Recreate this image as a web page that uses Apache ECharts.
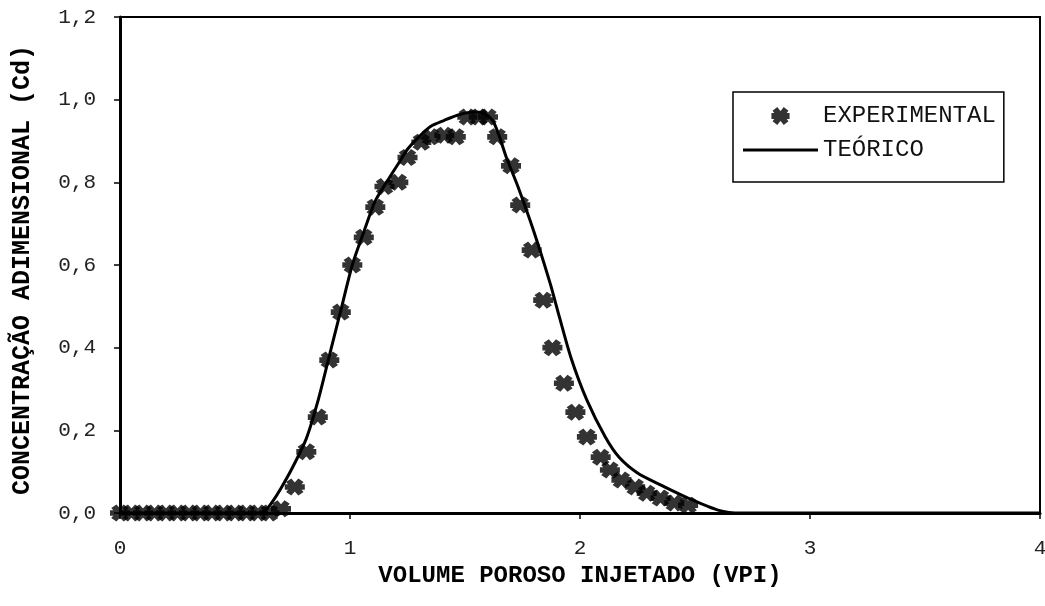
<!DOCTYPE html>
<html>
<head>
<meta charset="utf-8">
<script src="https://cdn.jsdelivr.net/npm/echarts@6/dist/echarts.min.js"></script>
<style>
  html, body { margin: 0; padding: 0; background: #fff; }
  #chart { width: 1045px; height: 606px; }
</style>
</head>
<body>
<div id="chart"></div>
<script>
// Experimental breakthrough points (VPI, Cd)
const expX = [0, 0.05, 0.10, 0.15, 0.20, 0.25, 0.30, 0.35, 0.40, 0.45, 0.50, 0.55, 0.60, 0.65,
  0.70, 0.76, 0.81, 0.86, 0.91, 0.96, 1.01, 1.06, 1.11, 1.15, 1.21, 1.25, 1.31, 1.35, 1.41, 1.46,
  1.51, 1.56, 1.60, 1.64, 1.70, 1.74, 1.79, 1.84, 1.88, 1.93, 1.98, 2.03, 2.09, 2.13, 2.18, 2.24,
  2.29, 2.35, 2.41, 2.47];
const expY = [0, 0, 0, 0, 0, 0, 0, 0, 0, 0, 0, 0, 0, 0,
  0.01, 0.063, 0.148, 0.232, 0.37, 0.486, 0.60, 0.667, 0.74, 0.79, 0.80, 0.86, 0.897, 0.91, 0.914, 0.91,
  0.958, 0.958, 0.958, 0.91, 0.84, 0.745, 0.636, 0.515, 0.40, 0.314, 0.244, 0.184, 0.135, 0.104, 0.08, 0.063,
  0.048, 0.036, 0.024, 0.019];

// Theoretical curve (VPI, Cd)
const teoX = [0, 0.60, 0.63, 0.66, 0.70, 0.75, 0.81, 0.86, 0.91, 0.96, 1.01, 1.06, 1.11, 1.17, 1.21,
  1.25, 1.30, 1.35, 1.41, 1.47, 1.54, 1.58, 1.62, 1.65, 1.68, 1.73, 1.80, 1.87, 1.91, 1.96, 2.03,
  2.11, 2.17, 2.25, 2.35, 2.47, 2.60, 2.70, 4.0];
const teoY = [0, 0, 0.005, 0.025, 0.06, 0.11, 0.18, 0.27, 0.38, 0.49, 0.60, 0.68, 0.755, 0.81, 0.845,
  0.88, 0.91, 0.935, 0.95, 0.963, 0.97, 0.967, 0.95, 0.91, 0.86, 0.79, 0.68, 0.556, 0.475, 0.377, 0.273,
  0.184, 0.135, 0.097, 0.068, 0.036, 0.007, 0, 0];

const seriesNames = ['EXPERIMENTAL', 'TEÓRICO'];
const xTitle = 'VOLUME POROSO INJETADO (VPI)';
const yTitle = 'CONCENTRAÇÃO ADIMENSIONAL (Cd)';

// Six-armed asterisk marker built from three crossing bars
const ASTERISK = (function () {
  const L = 10, t = 3.3, angles = [0, 52, -52];
  let d = '';
  angles.forEach(function (a) {
    const r = a * Math.PI / 180, dx = Math.cos(r), dy = Math.sin(r), px = -dy, py = dx;
    const pts = [
      [L * dx + t * px, L * dy + t * py],
      [L * dx - t * px, L * dy - t * py],
      [-L * dx - t * px, -L * dy - t * py],
      [-L * dx + t * px, -L * dy + t * py]
    ].map(function (p) { return (p[0] + 12).toFixed(2) + ' ' + (p[1] + 12).toFixed(2); });
    d += 'M' + pts[0] + ' L' + pts[1] + ' L' + pts[2] + ' L' + pts[3] + ' Z ';
  });
  return 'path://' + d;
})();

// Plain solid stroke used as the legend key of the curve
const LINE_KEY = 'path://M0 0 L75 0 L75 3 L0 3 Z';

const mono = "'Liberation Mono', 'Courier New', monospace";
const chart = echarts.init(document.getElementById('chart'), null, { renderer: 'canvas' });

chart.setOption({
  animation: false,
  backgroundColor: '#ffffff',
  grid: {
    left: 120, right: 5, top: 17, bottom: 93,
    outerBoundsMode: 'none', containLabel: false,
    show: true, borderColor: '#000', borderWidth: 2, backgroundColor: 'transparent'
  },
  legend: {
    orient: 'vertical',
    left: 733, top: 92,
    padding: [12, 8, 20, 10],
    itemWidth: 75, itemHeight: 18, itemGap: 10,
    borderColor: '#000', borderWidth: 1.5,
    symbolKeepAspect: true,
    textStyle: { fontFamily: mono, fontSize: 24, color: '#111' },
    data: [
      { name: seriesNames[0], icon: ASTERISK, itemStyle: { color: '#000' } },
      { name: seriesNames[1], icon: LINE_KEY, itemStyle: { color: '#000' } }
    ]
  },
  xAxis: {
    type: 'value', min: 0, max: 4, interval: 1,
    name: xTitle, nameLocation: 'middle', nameGap: 50,
    nameTextStyle: { fontFamily: mono, fontSize: 24, fontWeight: 'bold', color: '#000' },
    axisLine: { show: true, onZero: false, lineStyle: { color: '#000', width: 3 } },
    axisTick: { show: true, length: 6, lineStyle: { color: '#000', width: 1.5 } },
    axisLabel: { fontFamily: mono, fontSize: 21, color: '#222', margin: 25 },
    splitLine: { show: false }
  },
  yAxis: {
    type: 'value', min: 0, max: 1.2, interval: 0.2,
    name: yTitle, nameLocation: 'middle', nameGap: 85,
    nameTextStyle: { fontFamily: mono, fontSize: 25, fontWeight: 'bold', color: '#000', padding: [0, 10, 0, 0] },
    axisLine: { show: true, onZero: false, lineStyle: { color: '#000', width: 3 } },
    axisTick: { show: true, length: 6, lineStyle: { color: '#000', width: 1.5 } },
    axisLabel: {
      fontFamily: mono, fontSize: 21, color: '#222', margin: 24,
      formatter: function (v) { return v.toFixed(1).replace('.', ','); }
    },
    splitLine: { show: false }
  },
  series: [
    {
      name: seriesNames[1],
      type: 'line',
      data: teoX.map(function (x, i) { return [x, teoY[i]]; }),
      symbol: 'none',
      showSymbol: false,
      smooth: 0.25,
      lineStyle: { color: '#000', width: 3 },
      itemStyle: { color: '#000' },
      z: 2
    },
    {
      name: seriesNames[0],
      type: 'scatter',
      data: expX.map(function (x, i) { return [x, expY[i]]; }),
      symbol: ASTERISK,
      symbolSize: [20, 17],
      itemStyle: { color: '#000' },
      z: 3
    }
  ]
});
</script>
</body>
</html>
